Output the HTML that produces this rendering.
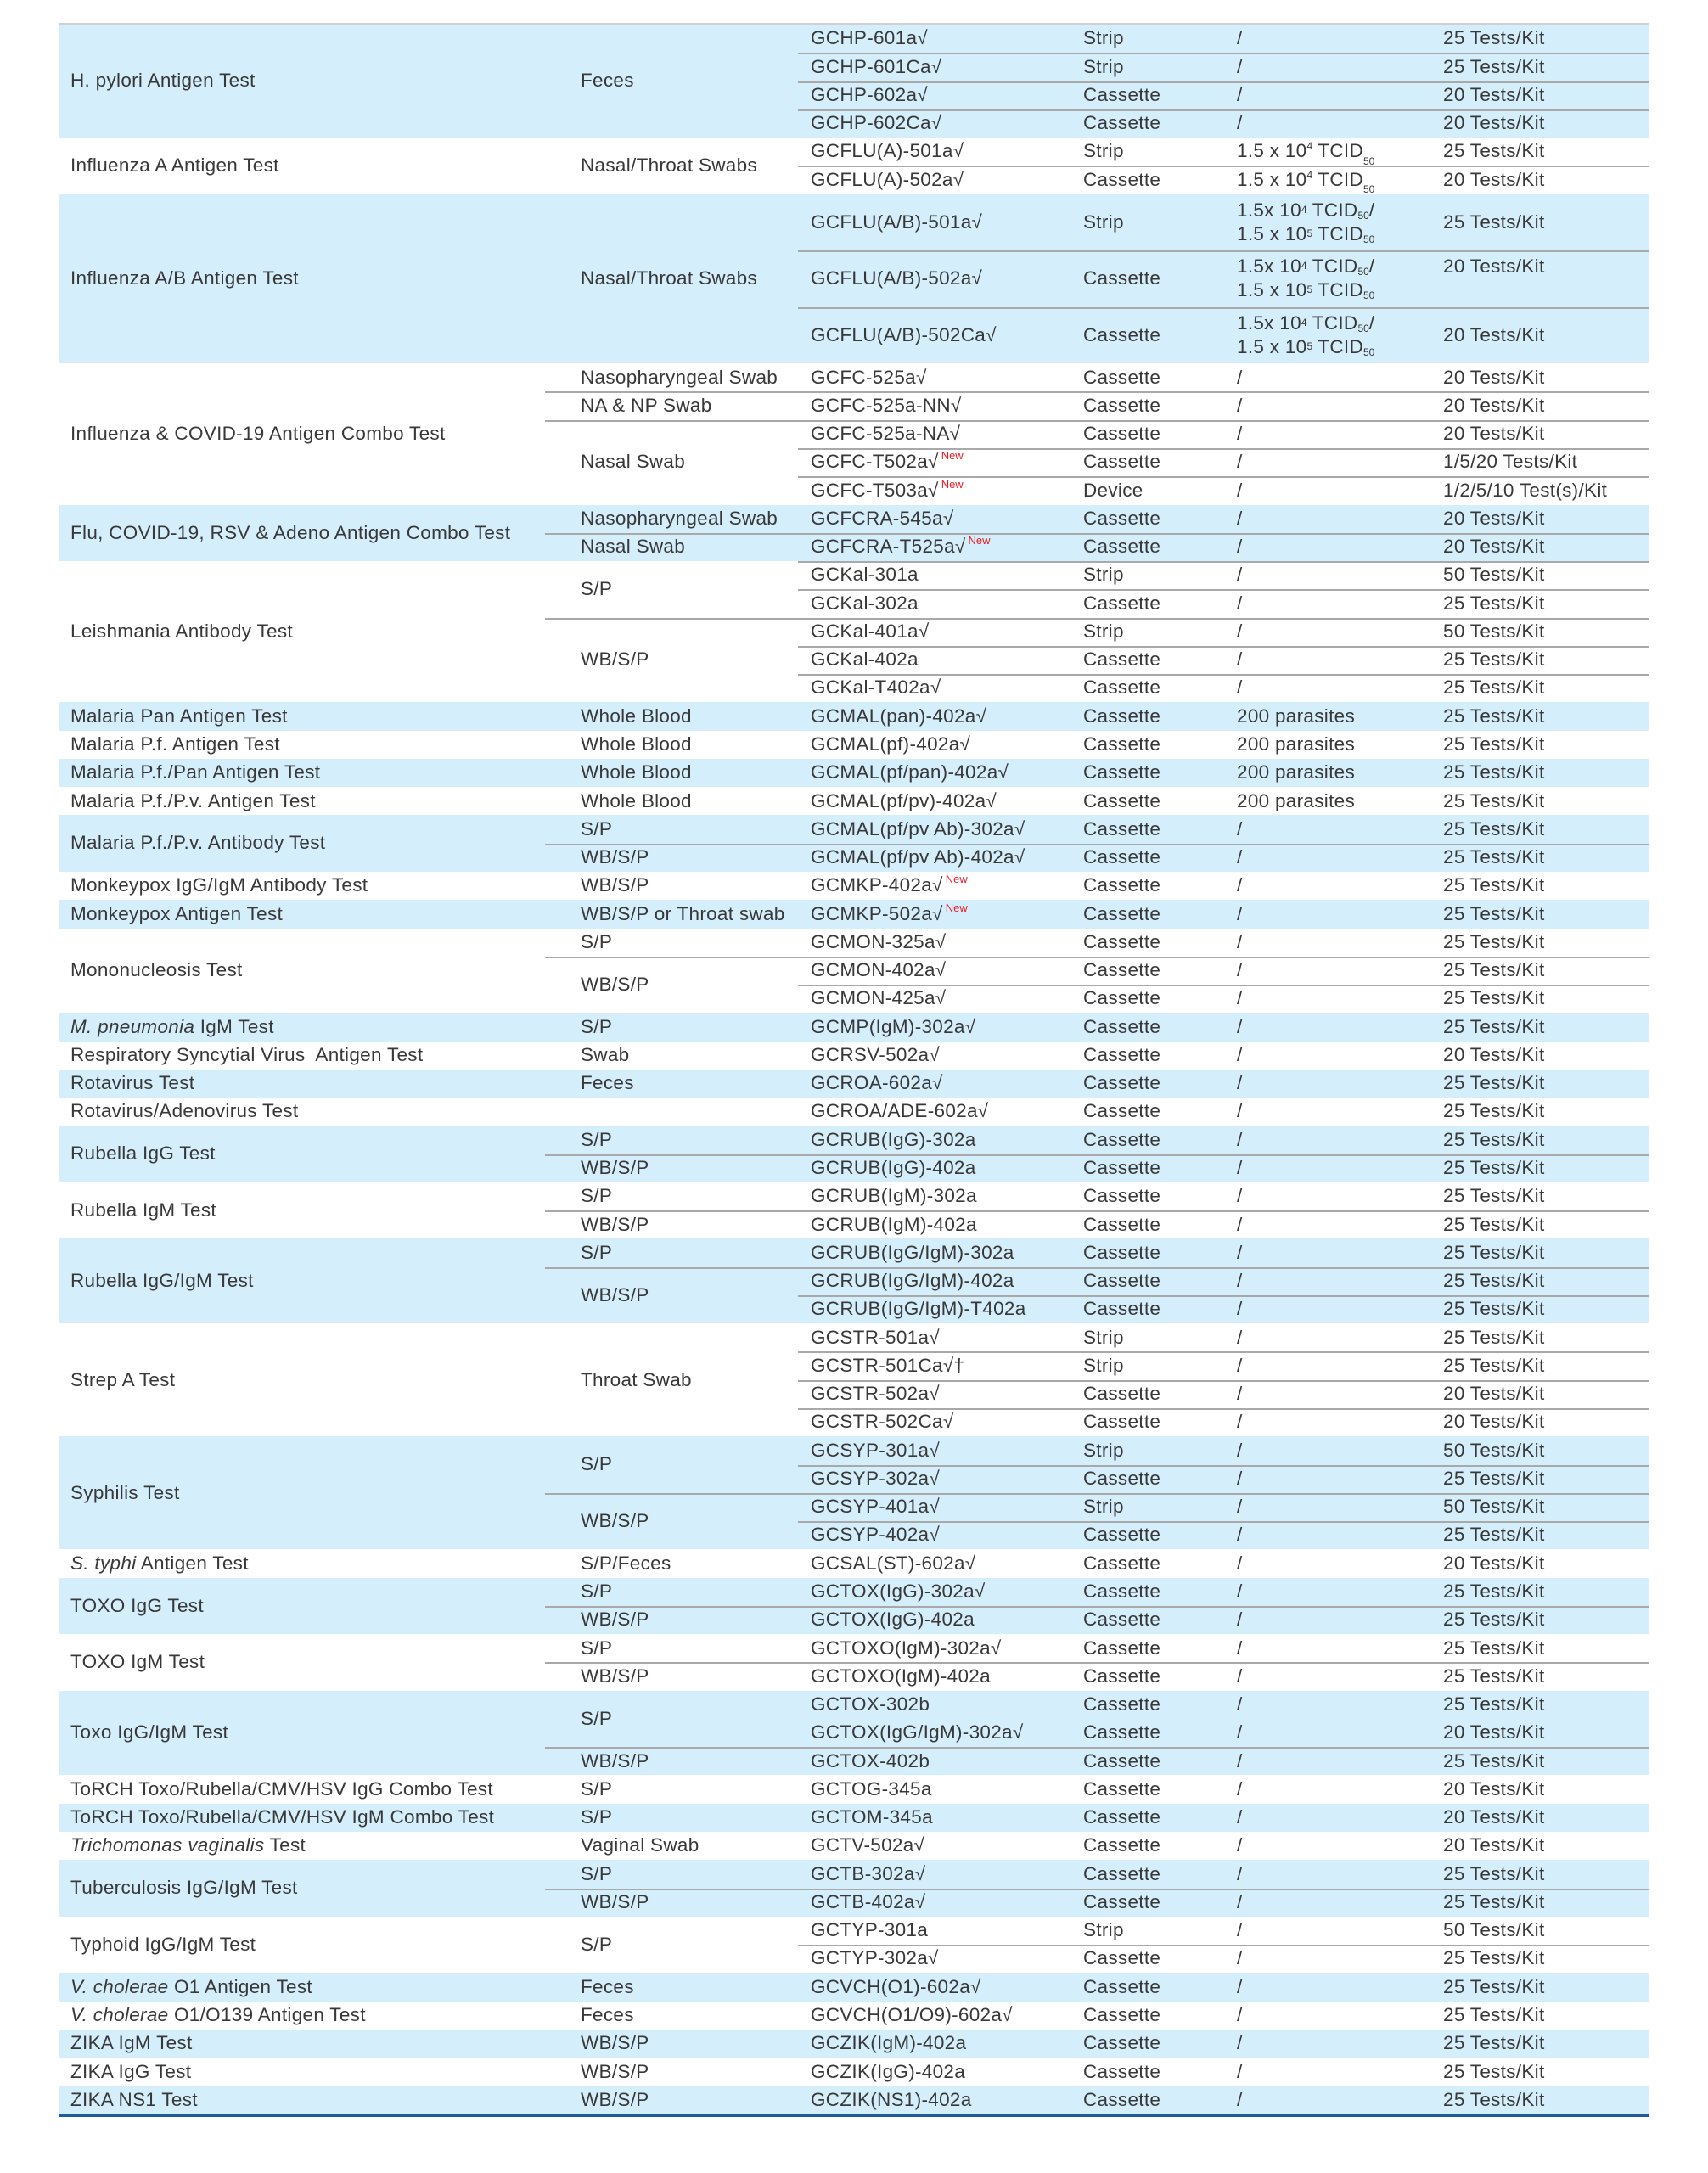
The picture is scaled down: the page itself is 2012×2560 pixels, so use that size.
<!DOCTYPE html>
<html><head><meta charset="utf-8">
<style>
html,body{margin:0;padding:0;background:#fff;width:2012px;height:2560px;overflow:hidden}
table{position:absolute;left:69px;top:29px;width:1873px;border-collapse:separate;border-spacing:0;table-layout:fixed;
font-family:"Liberation Sans",sans-serif;font-size:22.5px;color:#383838;letter-spacing:0.3px;border-top:2px solid #d0d0d0;border-bottom:3px solid #1d5d9e;margin-top:-2px}
td{padding:0 0 0 14px;height:33.27px;line-height:1;vertical-align:middle;white-space:nowrap;overflow:visible}
tr{height:33.27px}
tr.b td{background:#d4eefb}
tr.tall,tr.tall td{height:66.54px}
td.p{padding-left:42px}
td.c3{padding-left:15px}
.t{box-shadow:inset 0 2px 0 #a9a9a9}
sup.n{color:#e8202a;font-size:13px;vertical-align:top;position:relative;top:-3px;margin-left:3px;letter-spacing:0}
sup.e{font-size:12px;vertical-align:top;position:relative;top:-1px;letter-spacing:0}
sub{font-size:12px;vertical-align:bottom;position:relative;top:6px;letter-spacing:0}
.two{line-height:28px}
i{font-style:italic}
</style></head><body>
<table>
<colgroup><col style="width:573px"><col style="width:298px"><col style="width:322px"><col style="width:181px"><col style="width:243px"><col style="width:256px"></colgroup>
<tr class="b"><td rowspan="4">H. pylori Antigen Test</td><td rowspan="4" class="p">Feces</td><td class="c3">GCHP-601a√</td><td>Strip</td><td>/</td><td>25 Tests/Kit</td></tr>
<tr class="b"><td class="c3 t">GCHP-601Ca√</td><td class="t">Strip</td><td class="t">/</td><td class="t">25 Tests/Kit</td></tr>
<tr class="b"><td class="c3 t">GCHP-602a√</td><td class="t">Cassette</td><td class="t">/</td><td class="t">20 Tests/Kit</td></tr>
<tr class="b"><td class="c3 t">GCHP-602Ca√</td><td class="t">Cassette</td><td class="t">/</td><td class="t">20 Tests/Kit</td></tr>

<tr><td rowspan="2">Influenza A Antigen Test</td><td rowspan="2" class="p">Nasal/Throat Swabs</td><td class="c3">GCFLU(A)-501a√</td><td>Strip</td><td>1.5 x 10<sup class="e">4</sup> TCID<sub>50</sub></td><td>25 Tests/Kit</td></tr>
<tr><td class="c3 t">GCFLU(A)-502a√</td><td class="t">Cassette</td><td class="t">1.5 x 10<sup class="e">4</sup> TCID<sub>50</sub></td><td class="t">20 Tests/Kit</td></tr>

<tr class="b tall"><td rowspan="3">Influenza A/B Antigen Test</td><td rowspan="3" class="p">Nasal/Throat Swabs</td><td class="c3">GCFLU(A/B)-501a√</td><td>Strip</td><td class="two">1.5x 10<sup class="e">4</sup> TCID<sub>50</sub>/<br>1.5 x 10<sup class="e">5</sup> TCID<sub>50</sub></td><td>25 Tests/Kit</td></tr>
<tr class="b tall"><td class="c3 t">GCFLU(A/B)-502a√</td><td class="t">Cassette</td><td class="t two">1.5x 10<sup class="e">4</sup> TCID<sub>50</sub>/<br>1.5 x 10<sup class="e">5</sup> TCID<sub>50</sub></td><td class="t two">20 Tests/Kit<br>&nbsp;</td></tr>
<tr class="b tall"><td class="c3 t">GCFLU(A/B)-502Ca√</td><td class="t">Cassette</td><td class="t two">1.5x 10<sup class="e">4</sup> TCID<sub>50</sub>/<br>1.5 x 10<sup class="e">5</sup> TCID<sub>50</sub></td><td class="t">20 Tests/Kit</td></tr>

<tr><td rowspan="5">Influenza &amp; COVID-19 Antigen Combo Test</td><td class="p">Nasopharyngeal Swab</td><td class="c3">GCFC-525a√</td><td>Cassette</td><td>/</td><td>20 Tests/Kit</td></tr>
<tr><td class="p t">NA &amp; NP Swab</td><td class="c3 t">GCFC-525a-NN√</td><td class="t">Cassette</td><td class="t">/</td><td class="t">20 Tests/Kit</td></tr>
<tr><td rowspan="3" class="p t">Nasal Swab</td><td class="c3 t">GCFC-525a-NA√</td><td class="t">Cassette</td><td class="t">/</td><td class="t">20 Tests/Kit</td></tr>
<tr><td class="c3 t">GCFC-T502a√<sup class="n">New</sup></td><td class="t">Cassette</td><td class="t">/</td><td class="t">1/5/20 Tests/Kit</td></tr>
<tr><td class="c3 t">GCFC-T503a√<sup class="n">New</sup></td><td class="t">Device</td><td class="t">/</td><td class="t">1/2/5/10 Test(s)/Kit</td></tr>

<tr class="b"><td rowspan="2">Flu, COVID-19, RSV &amp; Adeno Antigen Combo Test</td><td class="p">Nasopharyngeal Swab</td><td class="c3">GCFCRA-545a√</td><td>Cassette</td><td>/</td><td>20 Tests/Kit</td></tr>
<tr class="b"><td class="p t">Nasal Swab</td><td class="c3 t">GCFCRA-T525a√<sup class="n">New</sup></td><td class="t">Cassette</td><td class="t">/</td><td class="t">20 Tests/Kit</td></tr>

<tr><td rowspan="5">Leishmania Antibody Test</td><td rowspan="2" class="p">S/P</td><td class="c3 t">GCKal-301a</td><td class="t">Strip</td><td class="t">/</td><td class="t">50 Tests/Kit</td></tr>
<tr><td class="c3 t">GCKal-302a</td><td class="t">Cassette</td><td class="t">/</td><td class="t">25 Tests/Kit</td></tr>
<tr><td rowspan="3" class="p t">WB/S/P</td><td class="c3 t">GCKal-401a√</td><td class="t">Strip</td><td class="t">/</td><td class="t">50 Tests/Kit</td></tr>
<tr><td class="c3 t">GCKal-402a</td><td class="t">Cassette</td><td class="t">/</td><td class="t">25 Tests/Kit</td></tr>
<tr><td class="c3 t">GCKal-T402a√</td><td class="t">Cassette</td><td class="t">/</td><td class="t">25 Tests/Kit</td></tr>

<tr class="b"><td>Malaria Pan Antigen Test</td><td class="p">Whole Blood</td><td class="c3">GCMAL(pan)-402a√</td><td>Cassette</td><td>200 parasites</td><td>25 Tests/Kit</td></tr>
<tr><td>Malaria P.f. Antigen Test</td><td class="p">Whole Blood</td><td class="c3">GCMAL(pf)-402a√</td><td>Cassette</td><td>200 parasites</td><td>25 Tests/Kit</td></tr>
<tr class="b"><td>Malaria P.f./Pan Antigen Test</td><td class="p">Whole Blood</td><td class="c3">GCMAL(pf/pan)-402a√</td><td>Cassette</td><td>200 parasites</td><td>25 Tests/Kit</td></tr>
<tr><td>Malaria P.f./P.v. Antigen Test</td><td class="p">Whole Blood</td><td class="c3">GCMAL(pf/pv)-402a√</td><td>Cassette</td><td>200 parasites</td><td>25 Tests/Kit</td></tr>

<tr class="b"><td rowspan="2">Malaria P.f./P.v. Antibody Test</td><td class="p">S/P</td><td class="c3">GCMAL(pf/pv Ab)-302a√</td><td>Cassette</td><td>/</td><td>25 Tests/Kit</td></tr>
<tr class="b"><td class="p t">WB/S/P</td><td class="c3 t">GCMAL(pf/pv Ab)-402a√</td><td class="t">Cassette</td><td class="t">/</td><td class="t">25 Tests/Kit</td></tr>

<tr><td>Monkeypox IgG/IgM Antibody Test</td><td class="p">WB/S/P</td><td class="c3">GCMKP-402a√<sup class="n">New</sup></td><td>Cassette</td><td>/</td><td>25 Tests/Kit</td></tr>
<tr class="b"><td>Monkeypox Antigen Test</td><td class="p">WB/S/P or Throat swab</td><td class="c3">GCMKP-502a√<sup class="n">New</sup></td><td>Cassette</td><td>/</td><td>25 Tests/Kit</td></tr>

<tr><td rowspan="3">Mononucleosis Test</td><td class="p">S/P</td><td class="c3">GCMON-325a√</td><td>Cassette</td><td>/</td><td>25 Tests/Kit</td></tr>
<tr><td rowspan="2" class="p t">WB/S/P</td><td class="c3 t">GCMON-402a√</td><td class="t">Cassette</td><td class="t">/</td><td class="t">25 Tests/Kit</td></tr>
<tr><td class="c3 t">GCMON-425a√</td><td class="t">Cassette</td><td class="t">/</td><td class="t">25 Tests/Kit</td></tr>

<tr class="b"><td><i>M. pneumonia</i> IgM Test</td><td class="p">S/P</td><td class="c3">GCMP(IgM)-302a√</td><td>Cassette</td><td>/</td><td>25 Tests/Kit</td></tr>
<tr><td>Respiratory Syncytial Virus&nbsp; Antigen Test</td><td class="p">Swab</td><td class="c3">GCRSV-502a√</td><td>Cassette</td><td>/</td><td>20 Tests/Kit</td></tr>
<tr class="b"><td>Rotavirus Test</td><td class="p">Feces</td><td class="c3">GCROA-602a√</td><td>Cassette</td><td>/</td><td>25 Tests/Kit</td></tr>
<tr><td>Rotavirus/Adenovirus Test</td><td class="p"></td><td class="c3">GCROA/ADE-602a√</td><td>Cassette</td><td>/</td><td>25 Tests/Kit</td></tr>

<tr class="b"><td rowspan="2">Rubella IgG Test</td><td class="p">S/P</td><td class="c3">GCRUB(IgG)-302a</td><td>Cassette</td><td>/</td><td>25 Tests/Kit</td></tr>
<tr class="b"><td class="p t">WB/S/P</td><td class="c3 t">GCRUB(IgG)-402a</td><td class="t">Cassette</td><td class="t">/</td><td class="t">25 Tests/Kit</td></tr>
<tr><td rowspan="2">Rubella IgM Test</td><td class="p">S/P</td><td class="c3">GCRUB(IgM)-302a</td><td>Cassette</td><td>/</td><td>25 Tests/Kit</td></tr>
<tr><td class="p t">WB/S/P</td><td class="c3 t">GCRUB(IgM)-402a</td><td class="t">Cassette</td><td class="t">/</td><td class="t">25 Tests/Kit</td></tr>
<tr class="b"><td rowspan="3">Rubella IgG/IgM Test</td><td class="p">S/P</td><td class="c3">GCRUB(IgG/IgM)-302a</td><td>Cassette</td><td>/</td><td>25 Tests/Kit</td></tr>
<tr class="b"><td rowspan="2" class="p t">WB/S/P</td><td class="c3 t">GCRUB(IgG/IgM)-402a</td><td class="t">Cassette</td><td class="t">/</td><td class="t">25 Tests/Kit</td></tr>
<tr class="b"><td class="c3 t">GCRUB(IgG/IgM)-T402a</td><td class="t">Cassette</td><td class="t">/</td><td class="t">25 Tests/Kit</td></tr>

<tr><td rowspan="4">Strep A Test</td><td rowspan="4" class="p">Throat Swab</td><td class="c3">GCSTR-501a√</td><td>Strip</td><td>/</td><td>25 Tests/Kit</td></tr>
<tr><td class="c3 t">GCSTR-501Ca√†</td><td class="t">Strip</td><td class="t">/</td><td class="t">25 Tests/Kit</td></tr>
<tr><td class="c3 t">GCSTR-502a√</td><td class="t">Cassette</td><td class="t">/</td><td class="t">20 Tests/Kit</td></tr>
<tr><td class="c3 t">GCSTR-502Ca√</td><td class="t">Cassette</td><td class="t">/</td><td class="t">20 Tests/Kit</td></tr>

<tr class="b"><td rowspan="4">Syphilis Test</td><td rowspan="2" class="p">S/P</td><td class="c3">GCSYP-301a√</td><td>Strip</td><td>/</td><td>50 Tests/Kit</td></tr>
<tr class="b"><td class="c3 t">GCSYP-302a√</td><td class="t">Cassette</td><td class="t">/</td><td class="t">25 Tests/Kit</td></tr>
<tr class="b"><td rowspan="2" class="p t">WB/S/P</td><td class="c3 t">GCSYP-401a√</td><td class="t">Strip</td><td class="t">/</td><td class="t">50 Tests/Kit</td></tr>
<tr class="b"><td class="c3 t">GCSYP-402a√</td><td class="t">Cassette</td><td class="t">/</td><td class="t">25 Tests/Kit</td></tr>

<tr><td><i>S. typhi</i> Antigen Test</td><td class="p">S/P/Feces</td><td class="c3">GCSAL(ST)-602a√</td><td>Cassette</td><td>/</td><td>20 Tests/Kit</td></tr>

<tr class="b"><td rowspan="2">TOXO IgG Test</td><td class="p">S/P</td><td class="c3">GCTOX(IgG)-302a√</td><td>Cassette</td><td>/</td><td>25 Tests/Kit</td></tr>
<tr class="b"><td class="p t">WB/S/P</td><td class="c3 t">GCTOX(IgG)-402a</td><td class="t">Cassette</td><td class="t">/</td><td class="t">25 Tests/Kit</td></tr>
<tr><td rowspan="2">TOXO IgM Test</td><td class="p">S/P</td><td class="c3">GCTOXO(IgM)-302a√</td><td>Cassette</td><td>/</td><td>25 Tests/Kit</td></tr>
<tr><td class="p t">WB/S/P</td><td class="c3 t">GCTOXO(IgM)-402a</td><td class="t">Cassette</td><td class="t">/</td><td class="t">25 Tests/Kit</td></tr>
<tr class="b"><td rowspan="3">Toxo IgG/IgM Test</td><td rowspan="2" class="p">S/P</td><td class="c3">GCTOX-302b</td><td>Cassette</td><td>/</td><td>25 Tests/Kit</td></tr>
<tr class="b"><td class="c3">GCTOX(IgG/IgM)-302a√</td><td>Cassette</td><td>/</td><td>20 Tests/Kit</td></tr>
<tr class="b"><td class="p t">WB/S/P</td><td class="c3 t">GCTOX-402b</td><td class="t">Cassette</td><td class="t">/</td><td class="t">25 Tests/Kit</td></tr>

<tr><td>ToRCH Toxo/Rubella/CMV/HSV IgG Combo Test</td><td class="p">S/P</td><td class="c3">GCTOG-345a</td><td>Cassette</td><td>/</td><td>20 Tests/Kit</td></tr>
<tr class="b"><td>ToRCH Toxo/Rubella/CMV/HSV IgM Combo Test</td><td class="p">S/P</td><td class="c3">GCTOM-345a</td><td>Cassette</td><td>/</td><td>20 Tests/Kit</td></tr>
<tr><td><i>Trichomonas vaginalis</i> Test</td><td class="p">Vaginal Swab</td><td class="c3">GCTV-502a√</td><td>Cassette</td><td>/</td><td>20 Tests/Kit</td></tr>

<tr class="b"><td rowspan="2">Tuberculosis IgG/IgM Test</td><td class="p">S/P</td><td class="c3">GCTB-302a√</td><td>Cassette</td><td>/</td><td>25 Tests/Kit</td></tr>
<tr class="b"><td class="p t">WB/S/P</td><td class="c3 t">GCTB-402a√</td><td class="t">Cassette</td><td class="t">/</td><td class="t">25 Tests/Kit</td></tr>
<tr><td rowspan="2">Typhoid IgG/IgM Test</td><td rowspan="2" class="p">S/P</td><td class="c3">GCTYP-301a</td><td>Strip</td><td>/</td><td>50 Tests/Kit</td></tr>
<tr><td class="c3 t">GCTYP-302a√</td><td class="t">Cassette</td><td class="t">/</td><td class="t">25 Tests/Kit</td></tr>

<tr class="b"><td><i>V. cholerae</i> O1 Antigen Test</td><td class="p">Feces</td><td class="c3">GCVCH(O1)-602a√</td><td>Cassette</td><td>/</td><td>25 Tests/Kit</td></tr>
<tr><td><i>V. cholerae</i> O1/O139 Antigen Test</td><td class="p">Feces</td><td class="c3">GCVCH(O1/O9)-602a√</td><td>Cassette</td><td>/</td><td>25 Tests/Kit</td></tr>
<tr class="b"><td>ZIKA IgM Test</td><td class="p">WB/S/P</td><td class="c3">GCZIK(IgM)-402a</td><td>Cassette</td><td>/</td><td>25 Tests/Kit</td></tr>
<tr><td>ZIKA IgG Test</td><td class="p">WB/S/P</td><td class="c3">GCZIK(IgG)-402a</td><td>Cassette</td><td>/</td><td>25 Tests/Kit</td></tr>
<tr class="b"><td>ZIKA NS1 Test</td><td class="p">WB/S/P</td><td class="c3">GCZIK(NS1)-402a</td><td>Cassette</td><td>/</td><td>25 Tests/Kit</td></tr>
</table>
</body></html>
